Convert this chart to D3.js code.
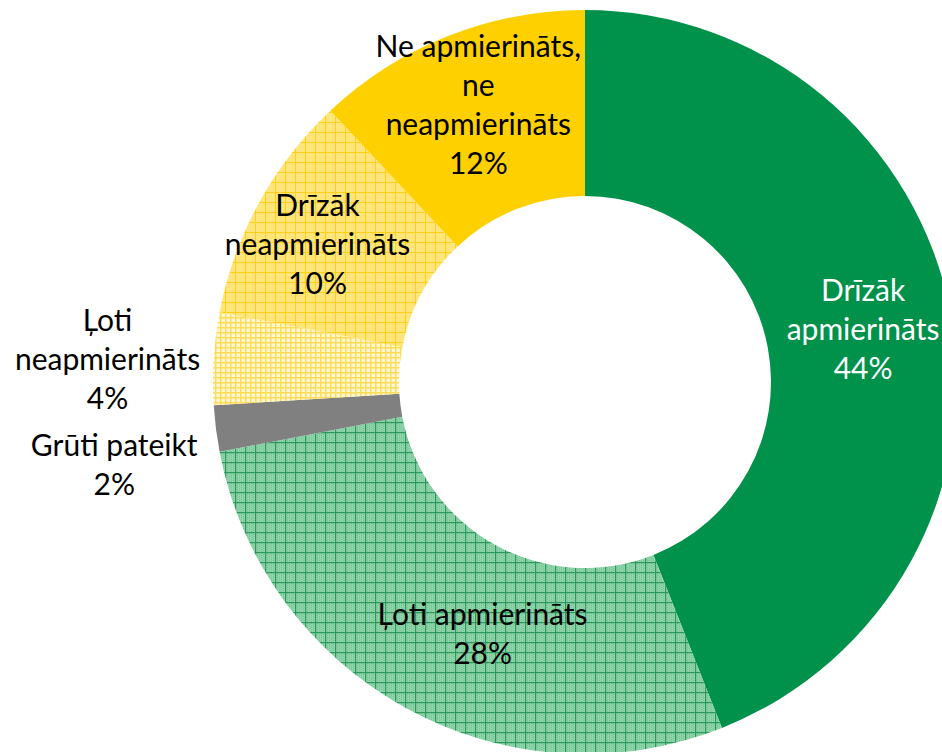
<!DOCTYPE html>
<html>
<head>
<meta charset="utf-8">
<script src="https://cdn.jsdelivr.net/npm/d3@7"></script>
<style>
  body { margin: 0; background: #fff; }
  text { font-family: Lato, "Open Sans", sans-serif; }
</style>
</head>
<body>
<svg id="chart"></svg>
<script>
// data
var categories = ["Drīzāk apmierināts", "Ļoti apmierināts", "Grūti pateikt", "Ļoti neapmierināts", "Drīzāk neapmierināts", "Ne apmierināts, ne neapmierināts"];
var values = [44, 28, 2, 4, 10, 12];
var labelLines = [
  ["Drīzāk", "apmierināts"],
  ["Ļoti apmierināts"],
  ["Grūti pateikt"],
  ["Ļoti", "neapmierināts"],
  ["Drīzāk", "neapmierināts"],
  ["Ne apmierināts,", "ne", "neapmierināts"]
];

var width = 942, height = 752;
var cx = 585, cy = 382, outerR = 372, innerR = 186;

var fills = ["#00914a", "url(#pGreen)", "#808080", "url(#pPlaid)", "url(#pYellow)", "#ffd000"];
var textColors = ["#fff", "#000", "#000", "#000", "#000", "#000"];
// label nudges from the centroid
var labelOffset = [[4, 0], [32, 8], [-194, 49], [-199, -4], [-23, -3], [-4, -17]];

var svg = d3.select("#chart")
  .attr("width", width)
  .attr("height", height);

// patterns
var defs = svg.append("defs");

var pg = defs.append("pattern").attr("id", "pGreen")
  .attr("patternUnits", "userSpaceOnUse").attr("width", 10).attr("height", 10);
pg.append("rect").attr("width", 10).attr("height", 10).attr("fill", "#8fd3a9");
for (var i = 0; i < 10; i += 2) {
  for (var j = (i / 2) % 2; j < 10; j += 2) {
    pg.append("rect").attr("x", i).attr("y", j).attr("width", 1).attr("height", 1).attr("fill", "#74c596");
  }
}
pg.append("rect").attr("x", 0).attr("y", 0).attr("width", 10).attr("height", 1.2).attr("fill", "#2a9a5c");
pg.append("rect").attr("x", 0).attr("y", 0).attr("width", 1.2).attr("height", 10).attr("fill", "#2a9a5c");

var py = defs.append("pattern").attr("id", "pYellow")
  .attr("patternUnits", "userSpaceOnUse").attr("width", 10).attr("height", 10);
py.append("rect").attr("width", 10).attr("height", 10).attr("fill", "#ffe57a");
py.append("rect").attr("x", 0).attr("y", 0).attr("width", 10).attr("height", 1).attr("fill", "#ffcf1a");
py.append("rect").attr("x", 0).attr("y", 0).attr("width", 1).attr("height", 10).attr("fill", "#ffcf1a");

var pp = defs.append("pattern").attr("id", "pPlaid")
  .attr("patternUnits", "userSpaceOnUse").attr("width", 5).attr("height", 5);
pp.append("rect").attr("width", 5).attr("height", 5).attr("fill", "#fff7d6");
pp.append("rect").attr("x", 0).attr("y", 0).attr("width", 5).attr("height", 1.5).attr("fill", "#ffdc55");
pp.append("rect").attr("x", 0).attr("y", 0).attr("width", 1.5).attr("height", 5).attr("fill", "#ffdc55");

var pie = d3.pie().sort(null).value(function(d) { return d; });
var arc = d3.arc().innerRadius(innerR).outerRadius(outerR);

var arcs = pie(values);

var g = svg.append("g").attr("transform", "translate(" + cx + "," + cy + ")");

g.selectAll("path")
  .data(arcs)
  .enter()
  .append("path")
  .attr("d", arc)
  .attr("fill", function(d, i) { return fills[i]; });

// labels
var fontSize = 30, lineH = 39;
g.selectAll("text.lbl")
  .data(arcs)
  .enter()
  .append("text")
  .attr("class", "lbl")
  .attr("text-anchor", "middle")
  .attr("font-size", fontSize)
  .attr("fill", function(d, i) { return textColors[i]; })
  .each(function(d, i) {
    var c = arc.centroid(d);
    var lines = labelLines[i].concat([values[i] + "%"]);
    var x = c[0] + labelOffset[i][0];
    var y0 = c[1] + labelOffset[i][1] - (lines.length - 1) * lineH / 2 + 10;
    var t = d3.select(this);
    lines.forEach(function(s, k) {
      t.append("tspan").attr("x", x).attr("y", y0 + k * lineH).text(s);
    });
  });
</script>
</body>
</html>
